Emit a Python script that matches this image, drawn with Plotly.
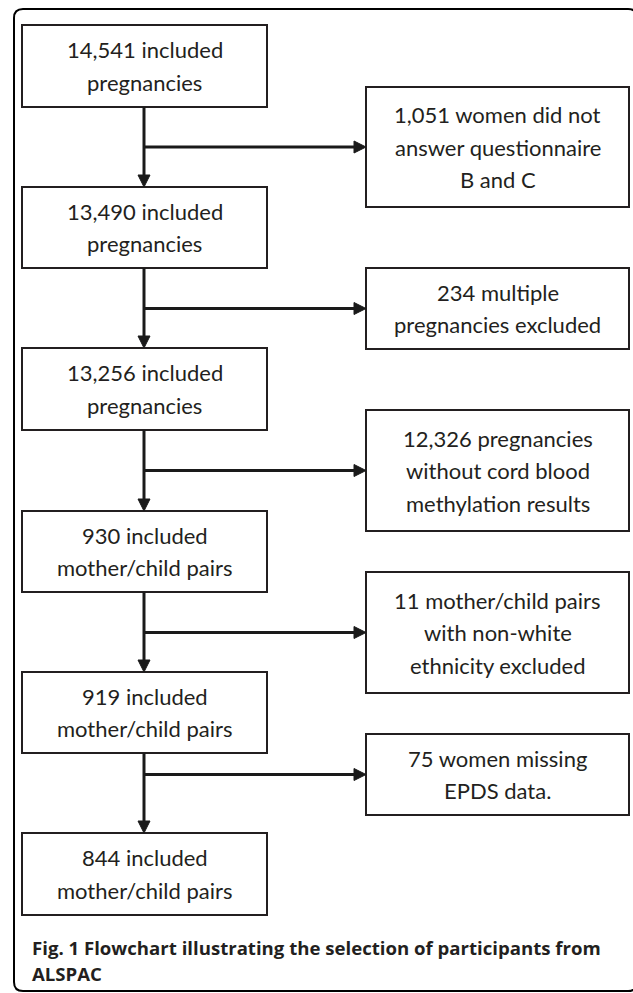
import plotly.graph_objects as go

# ---- data ----
main_steps = [
    ["14,541 included", "pregnancies"],
    ["13,490 included", "pregnancies"],
    ["13,256 included", "pregnancies"],
    ["930 included", "mother/child pairs"],
    ["919 included", "mother/child pairs"],
    ["844 included", "mother/child pairs"],
]
exclusions = [
    ["1,051 women did not", "answer questionnaire", "B and C"],
    ["234 multiple", "pregnancies excluded"],
    ["12,326 pregnancies", "without cord blood", "methylation results"],
    ["11 mother/child pairs", "with non-white", "ethnicity excluded"],
    ["75 women missing", "EPDS data."],
]
caption_lines = ["Fig. 1 Flowchart illustrating the selection of participants from", "ALSPAC"]

# ---- layout (pixel space) ----
W, H = 633, 993
left_x = (22, 267)
left_y = [(25, 107), (187, 268), (348, 430), (511, 592), (672, 753), (833, 915)]
right_x = (366, 629)
right_y = [(87, 207), (268, 349), (410, 531), (572, 693), (734, 815)]
trunk_x = 144
line_gap = 32.5
box_line = "#231f20"
text_col = "#231f20"

fig = go.Figure()
shapes = []
annotations = []

def add_box(x0, x1, y0, y1, lines):
    shapes.append(dict(type="rect", xref="x", yref="y", x0=x0, x1=x1, y0=y0, y1=y1,
                       line=dict(color=box_line, width=2), fillcolor="white", layer="above"))
    cy = (y0 + y1) / 2
    n = len(lines)
    for i, t in enumerate(lines):
        yy = cy + (i - (n - 1) / 2) * line_gap
        annotations.append(dict(x=(x0 + x1) / 2, y=yy, xref="x", yref="y", text=t,
                                showarrow=False, xanchor="center", yanchor="middle",
                                font=dict(family="Lato", size=22, color=text_col)))

def arrow_head(tx, ty, direction, L=12, half=6):
    if direction == "down":
        p = f"M {tx},{ty} L {tx-half},{ty-L} L {tx+half},{ty-L} Z"
    else:
        p = f"M {tx},{ty} L {tx-L},{ty-half} L {tx-L},{ty+half} Z"
    shapes.append(dict(type="path", xref="x", yref="y", path=p,
                       fillcolor="#1a1a1a", line=dict(color="#1a1a1a", width=1)))

for (y0, y1), lines in zip(left_y, main_steps):
    add_box(left_x[0], left_x[1], y0, y1, lines)
for (y0, y1), lines in zip(right_y, exclusions):
    add_box(right_x[0], right_x[1], y0, y1, lines)

# connectors
for i in range(len(left_y) - 1):
    y_start = left_y[i][1]
    y_end = left_y[i + 1][0]
    shapes.append(dict(type="line", xref="x", yref="y", x0=trunk_x, x1=trunk_x,
                       y0=y_start, y1=y_end - 10, line=dict(color="#1a1a1a", width=3)))
    arrow_head(trunk_x, y_end, "down")
    by = (right_y[i][0] + right_y[i][1]) / 2
    shapes.append(dict(type="line", xref="x", yref="y", x0=trunk_x, x1=right_x[0] - 10,
                       y0=by, y1=by, line=dict(color="#1a1a1a", width=3)))
    arrow_head(right_x[0], by, "right")

# outer frame with rounded corners (right edge falls just outside the canvas)
r = 9
fl, ft, fr, fb = 14, 9, 637, 991
frame = (f"M {fl+r},{ft} L {fr-r},{ft} Q {fr},{ft} {fr},{ft+r} L {fr},{fb-r} "
         f"Q {fr},{fb} {fr-r},{fb} L {fl+r},{fb} Q {fl},{fb} {fl},{fb-r} "
         f"L {fl},{ft+r} Q {fl},{ft} {fl+r},{ft} Z")
shapes.insert(0, dict(type="path", xref="x", yref="y", path=frame,
                      line=dict(color="#000000", width=2), fillcolor="rgba(0,0,0,0)"))

# caption
cap_y = [947, 973]
for t, yy in zip(caption_lines, cap_y):
    annotations.append(dict(x=30, y=yy, xref="x", yref="y", text=f"<b>{t}</b>",
                            showarrow=False, xanchor="left", yanchor="middle",
                            font=dict(family="Open Sans", size=18.6, color="#231f20")))

fig.update_layout(
    width=W, height=H, margin=dict(l=0, r=0, t=0, b=0),
    paper_bgcolor="white", plot_bgcolor="white",
    xaxis=dict(range=[0, W], visible=False, fixedrange=True),
    yaxis=dict(range=[H, 0], visible=False, fixedrange=True),
    shapes=shapes, annotations=annotations, showlegend=False,
)
fig.write_html("out.html", config={"displayModeBar": False},
               post_script="document.body.style.margin='0';document.body.style.padding='0';document.body.style.overflow='hidden';")
